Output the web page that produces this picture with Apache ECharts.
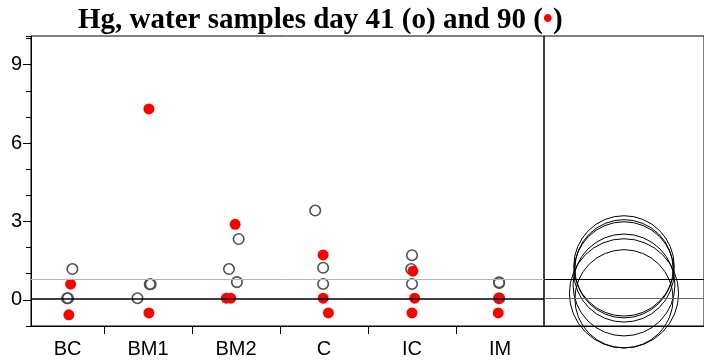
<!DOCTYPE html>
<html>
<head>
<meta charset="utf-8">
<script src="https://cdn.jsdelivr.net/npm/echarts@6/dist/echarts.min.js"></script>
<style>
html,body{margin:0;padding:0;background:#fff;}
#chart{width:704px;height:363px;}
</style>
</head>
<body>
<div id="chart"></div>
<script>
// ---- data ----
const categories = ['BC', 'BM1', 'BM2', 'C', 'IC', 'IM'];
const yTickLabels = [0, 3, 6, 9];
// day 41 (open circles): [group index, jitter, Hg]
const day41 = [
  [0, 0.14, 1.18], [0, 0.08, 0.065], [0, 0.09, 0.065],
  [1, -0.12, 0.065], [1, 0.02, 0.60], [1, 0.03, 0.60],
  [2, 0.03, 2.33], [2, -0.08, 1.18], [2, 0.01, 0.68],
  [3, -0.10, 3.42], [3, -0.01, 1.23], [3, -0.01, 0.61],
  [4, 0.00, 1.71], [4, -0.01, 1.18], [4, 0.00, 0.61],
  [5, -0.01, 0.65], [5, -0.01, 0.67], [5, -0.01, 0.065]
];
// day 90 (red dots): [group index, jitter, Hg]
const day90 = [
  [0, 0.12, 0.60], [0, 0.10, -0.57],
  [1, 0.01, 7.31], [1, 0.01, -0.50],
  [2, -0.01, 2.89], [2, -0.11, 0.065], [2, -0.06, 0.065],
  [3, -0.01, 1.72], [3, -0.01, 0.065], [3, 0.05, -0.50],
  [4, 0.01, 1.10], [4, 0.03, 0.065], [4, 0.00, -0.50],
  [5, -0.01, 0.065], [5, -0.02, -0.50]
];
const overallMean = 0.8;
const baseLevel = 0.05;
// comparison circles: [centre, radius] in Hg units
const circles = [[1.30, 1.92], [1.19, 1.88], [1.07, 1.92], [0.57, 1.95], [0.25, 2.09], [0.04, 1.88]];

// ---- chart ----
const yMin = -1, yMax = 10.1;
const xMin = -0.33, xMax = 5.5;
const boundaries = categories.slice(1).map((_, i) => i + 0.5);
const labelPos = categories.map((_, i) => i === 0 ? (xMin + 0.5) / 2 : i);
const sansFont = 'Liberation Sans, Arial, sans-serif';
const serifFont = 'Liberation Serif, Times New Roman, serif';

const chart = echarts.init(document.getElementById('chart'), null, {renderer: 'canvas'});
chart.setOption({
  animation: false,
  backgroundColor: '#fff',
  title: {
    left: 73, top: 1,
    text: '{t|Hg, water samples day 41 (o) and 90 (}{r|•}{t|)}',
    textStyle: {
      rich: {
        t: {fontFamily: serifFont, fontWeight: 'bold', fontSize: 29, color: '#000'},
        r: {fontFamily: serifFont, fontWeight: 'bold', fontSize: 29, color: '#ff0000'}
      }
    }
  },
  grid: [
    {left: 31, top: 36, width: 513, bottom: 37, show: true, borderColor: '#000', borderWidth: 1},
    {left: 544, top: 36, right: -3, bottom: 37, show: true, borderColor: '#000', borderWidth: 1}
  ],
  xAxis: [
    {
      gridIndex: 0, type: 'value', min: xMin, max: xMax,
      axisLine: {show: true, onZero: false, lineStyle: {color: '#000', width: 1}},
      axisTick: {show: true, customValues: boundaries, length: 8, lineStyle: {color: '#000'}},
      axisLabel: {show: true, customValues: labelPos, margin: 13,
        formatter: v => categories[Math.round(Math.max(0, v))],
        color: '#000', fontSize: 20, fontFamily: sansFont},
      splitLine: {show: false}
    },
    {
      gridIndex: 1, type: 'value', min: -1, max: 1,
      axisLine: {show: true, onZero: false, lineStyle: {color: '#000'}},
      axisTick: {show: false}, axisLabel: {show: false}, splitLine: {show: false}
    }
  ],
  yAxis: [
    {
      gridIndex: 0, type: 'value', min: yMin, max: yMax, interval: 1,
      axisLine: {show: true, onZero: false, lineStyle: {color: '#000'}},
      axisTick: {show: true, length: 5, lineStyle: {color: '#000'}},
      axisLabel: {show: false}, splitLine: {show: false}
    },
    {
      gridIndex: 0, type: 'value', min: yMin, max: yMax, position: 'left',
      axisLine: {show: false, onZero: false},
      axisTick: {show: true, customValues: yTickLabels, length: 8, lineStyle: {color: '#000'}},
      axisLabel: {show: true, customValues: yTickLabels, margin: 9, color: '#000', fontSize: 20, fontFamily: sansFont},
      splitLine: {show: false}
    },
    {
      gridIndex: 1, type: 'value', min: yMin, max: yMax,
      axisLine: {show: false, onZero: false}, axisTick: {show: false}, axisLabel: {show: false}, splitLine: {show: false}
    }
  ],
  series: [
    {
      type: 'scatter', xAxisIndex: 0, yAxisIndex: 0, z: 3,
      data: day41.map(d => [d[0] + d[1], d[2]]),
      symbol: 'circle', symbolSize: 10.5,
      itemStyle: {color: 'rgba(0,0,0,0)', borderColor: '#505050', borderWidth: 1.6, opacity: 1},
      markLine: {
        silent: true, symbol: 'none', label: {show: false},
        data: [
          {yAxis: overallMean, lineStyle: {color: '#b4b4b4', width: 1, type: 'solid'}},
          {yAxis: baseLevel, lineStyle: {color: '#000', width: 1.5, type: 'solid'}}
        ]
      }
    },
    {
      type: 'scatter', xAxisIndex: 0, yAxisIndex: 0, z: 4,
      data: day90.map(d => [d[0] + d[1], d[2]]),
      symbol: 'circle', symbolSize: 11,
      itemStyle: {color: '#ff0000', opacity: 1}
    },
    {
      type: 'custom', xAxisIndex: 1, yAxisIndex: 2, clip: false,
      data: circles.map(c => [0, c[0], c[1]]),
      encode: {x: 0, y: 1},
      renderItem: function (params, api) {
        const p = api.coord([api.value(0), api.value(1)]);
        const r = api.size([0, api.value(2)])[1];
        return {type: 'circle', shape: {cx: p[0], cy: p[1], r: r},
          style: {fill: 'none', stroke: '#000', lineWidth: 1}};
      },
      markLine: {
        silent: true, symbol: 'none', label: {show: false},
        data: [
          {yAxis: overallMean, lineStyle: {color: '#000', width: 1, type: 'solid'}},
          {yAxis: baseLevel, lineStyle: {color: '#666', width: 1, type: 'solid'}}
        ]
      }
    }
  ]
});
</script>
</body>
</html>
